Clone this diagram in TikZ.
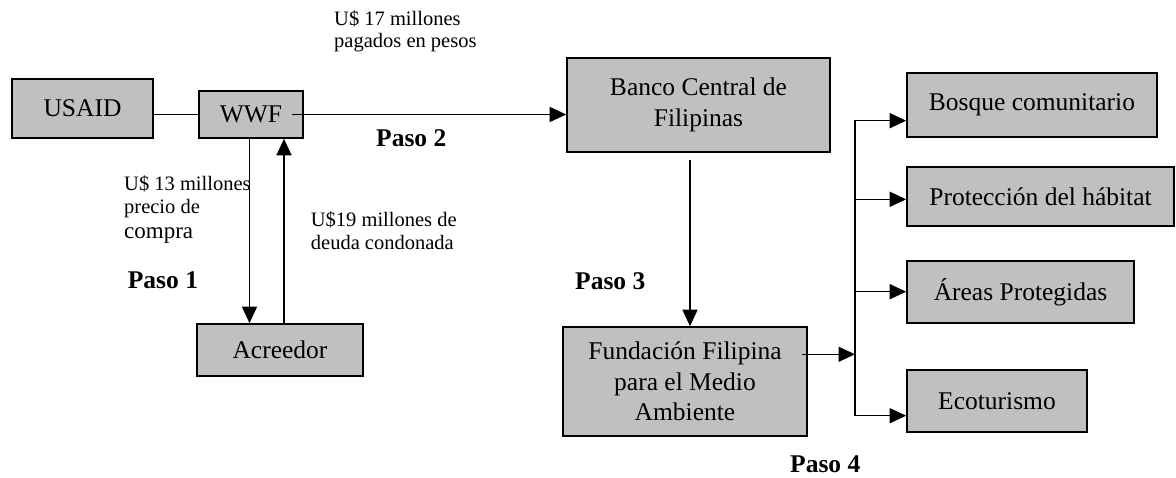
\documentclass[tikz,border=0pt]{standalone}
\usepackage{fontspec}
\setmainfont{Liberation Serif}
\usetikzlibrary{arrows.meta}
\definecolor{boxgray}{RGB}{192,192,192}
\begin{document}
\begin{tikzpicture}[x=1pt,y=-1pt,
  box/.style={draw=black, line width=1.6pt, fill=boxgray, inner sep=0pt,
    font=\fontsize{25.5}{30.5}\selectfont, align=center},
  lnk/.style={line width=1.4pt, line cap=rect},
  arr/.style={line width=1.4pt, -{Triangle[length=16.5pt,width=15pt]}},
  small/.style={font=\fontsize{20.5}{22}\selectfont, inner sep=0pt, anchor=base west},
  paso/.style={font=\fontsize{25.5}{30}\selectfont\bfseries, inner sep=0pt, anchor=base west}]
\useasboundingbox (0,0) rectangle (1176,478);

% boxes
\node[box, minimum width=141pt, minimum height=59pt] (usaid) at (82.5,108.5) {USAID};
\node[box, minimum width=104pt, minimum height=47pt] (wwf) at (251,114.5) {WWF};
\node[box, minimum width=166pt, minimum height=52pt] (acre) at (280,350) {Acreedor};
\node[box, minimum width=263pt, minimum height=94pt] (banco) at (698.5,105) {Banco Central de\\Filipinas};
\node[box, minimum width=244pt, minimum height=109pt] (fund) at (685,381.5) {Fundación Filipina\\para el Medio\\Ambiente};
\node[box, minimum width=250pt, minimum height=64pt] (bosque) at (1032,105) {Bosque comunitario};
\node[box, minimum width=267pt, minimum height=59pt] (prot) at (1040.5,196.5) {Protección del hábitat};
\node[box, minimum width=227pt, minimum height=62pt] (areas) at (1020.5,292) {Áreas Protegidas};
\node[box, minimum width=180pt, minimum height=62pt] (eco) at (997,401) {Ecoturismo};

% helper coordinates
\coordinate (wwfout) at (292,114.5);
\coordinate (dn) at (249.5,0);
\coordinate (up) at (284,0);
\coordinate (bstart) at (690,160);
\coordinate (fstart) at (801.5,354.3);
\coordinate (busmid) at (855,354.3);
\coordinate (bustop) at (855,120.7);
\coordinate (bus2) at (855,199.3);
\coordinate (bus3) at (855,291.7);
\coordinate (busbot) at (855,415.7);

% connectors
\draw[lnk] (usaid.east |- wwf.west) -- (wwf.west);
\draw[arr] (wwfout) -- (wwfout -| banco.west);
\draw[arr] (wwf.south -| dn) -- (acre.north -| dn);
\draw[arr] (acre.north -| up) -- (wwf.south -| up);
\draw[arr] (bstart) -- (bstart |- fund.north);
\draw[arr] (fstart) -- (busmid);
\draw[lnk] (bustop) -- (busbot);
\draw[arr] (bustop) -- (bustop -| bosque.west);
\draw[arr] (bus2) -- (bus2 -| prot.west);
\draw[arr] (bus3) -- (bus3 -| areas.west);
\draw[arr] (busbot) -- (busbot -| eco.west);

% labels
\node[small] (t17a) at (334,26) {U\$ 17 millones};
\node[small] (t17b) at (334,47.5) {pagados en pesos};
\node[small] (t13a) at (124,190.5) {U\$ 13 millones};
\node[small] (t13b) at (124,213.3) {precio de};
\node[small, font=\fontsize{23}{25}\selectfont] (t13c) at (124,238.5) {compra};
\node[small] (t19a) at (310.7,226.7) {U\$19 millones de};
\node[small] (t19b) at (310.7,250) {deuda condonada};
\node[paso] (p1) at (127.7,288.3) {Paso 1};
\node[paso] (p2) at (376,146.7) {Paso 2};
\node[paso] (p3) at (575,290) {Paso 3};
\node[paso] (p4) at (790,472.5) {Paso 4};
\end{tikzpicture}
\end{document}
